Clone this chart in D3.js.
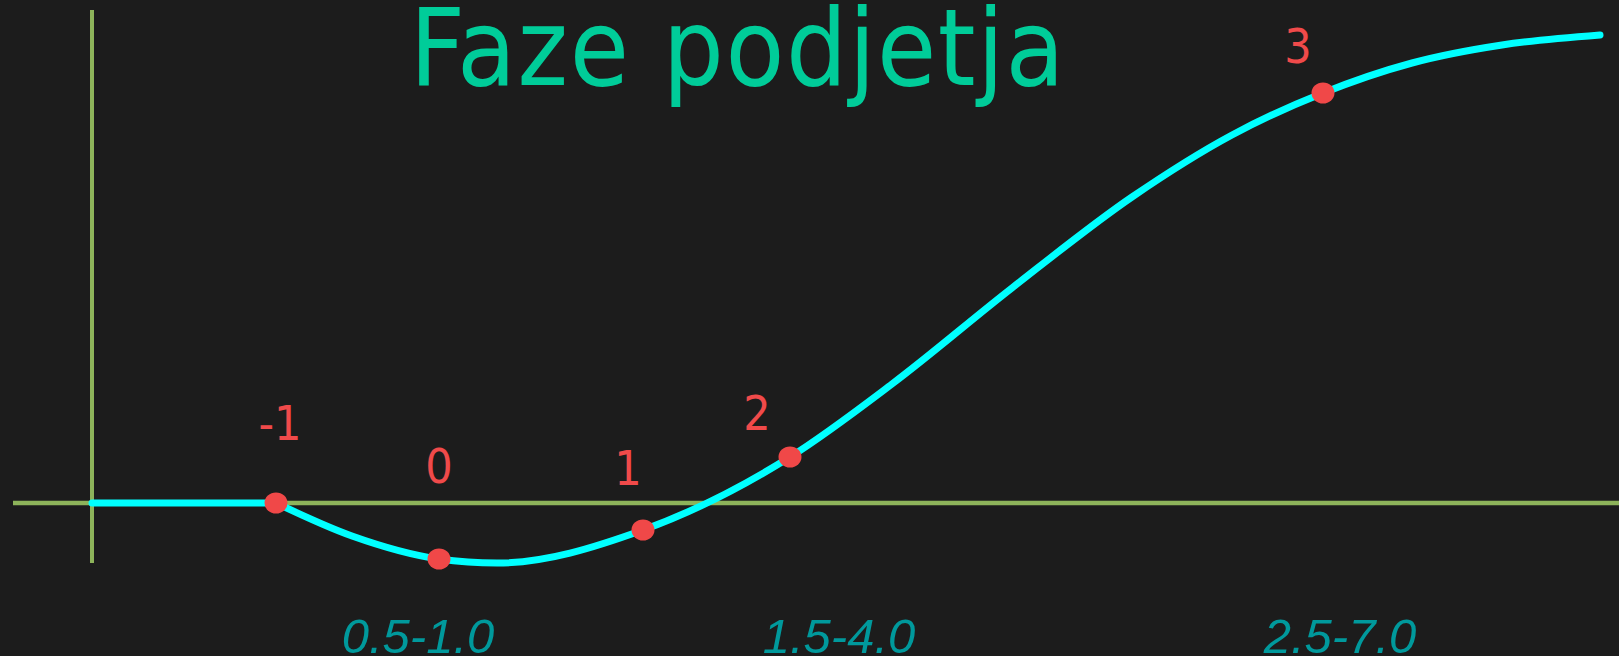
<!DOCTYPE html>
<html>
<head>
<meta charset="utf-8">
<script src="https://cdn.jsdelivr.net/npm/d3@7"></script>
<style>
  html, body { margin: 0; padding: 0; background: #1c1c1c; overflow: hidden; }
  .title { font-family: "DejaVu Sans Condensed", "DejaVu Sans"; font-stretch: condensed; fill: #00cc99; letter-spacing: 1.6px; }
  .phase_label { font-family: "DejaVu Sans Condensed", "DejaVu Sans"; font-stretch: condensed; fill: #f04a4a; }
  .range_label { font-family: "Liberation Sans Narrow", "Liberation Sans"; font-stretch: condensed; font-style: italic; fill: #00999c; }
</style>
</head>
<body>
<div class="viz"></div>
<script>
const W = 1619, H = 656;

// lifecycle curve (x: time, y: value)
// first two points are the flat start, the rest is the smooth part
const curveX = [0, 18.4, 26.0, 34.7, 40.5, 55.1, 69.8, 80.0, 92.0, 104.0, 114.0, 123.1, 132.0, 141.0, 150.8];
const curveY = [0, 0, -3.3, -5.6, -6.0, -2.7, 4.6, 11.9, 21.5, 30.6, 36.8, 41.0, 44.0, 45.8, 46.8];

// phases marked on the curve
const phases = ["-1", "0", "1", "2", "3"];
const phaseX = [18.4, 34.7, 55.1, 69.8, 123.1];
const phaseY = [0, -5.6, -2.7, 4.6, 41.0];

// ranges under the x axis
const rangeLabels = ["0.5-1.0", "1.5-4.0", "2.5-7.0"];
const rangeX = [32.6, 74.7, 124.8];

const titleText = "Faze podjetja";

// label offsets in px (label position relative to its dot)
const phaseOffsets = [[4, -63], [0, -76], [-15, -45], [-33, -27], [-25, -30]];

const svg = d3.select('.viz')
    .append('svg')
    .attr('width', W)
    .attr('height', H);

svg.append('rect')
    .attr('width', W)
    .attr('height', H)
    .attr('fill', '#1c1c1c');

const x = d3.scaleLinear()
    .domain([-7.9, 152.7])
    .range([13, W]);

const y = d3.scaleLinear()
    .domain([-6, 49.3])
    .range([563, 10]);

/* AXES */
svg.append('line')
    .attr('x1', x(0)).attr('x2', x(0))
    .attr('y1', y(-6)).attr('y2', y(49.3))
    .attr('stroke', '#8db35a')
    .attr('stroke-width', 4);

svg.append('line')
    .attr('x1', x(-7.9)).attr('x2', x(152.7))
    .attr('y1', y(0)).attr('y2', y(0))
    .attr('stroke', '#8db35a')
    .attr('stroke-width', 4.5);

/* TITLE */
svg.append('text')
    .attr('class', 'title')
    .attr('x', 738)
    .attr('y', 85)
    .attr('text-anchor', 'middle')
    .style('font-size', '107px')
    .text(titleText);

/* CURVE */
const pts = curveX.map(function(d, i) { return [d, curveY[i]]; });

const flatLine = d3.line()
    .x(function(d) { return x(d[0]); })
    .y(function(d) { return y(d[1]); });

const smoothLine = d3.line()
    .x(function(d) { return x(d[0]); })
    .y(function(d) { return y(d[1]); })
    .curve(d3.curveMonotoneX);

svg.append('path')
    .datum(pts.slice(0, 2))
    .attr('d', flatLine)
    .attr('fill', 'none')
    .attr('stroke', '#00ffff')
    .attr('stroke-width', 7)
    .attr('stroke-linecap', 'round');

svg.append('path')
    .datum(pts.slice(1))
    .attr('d', smoothLine)
    .attr('fill', 'none')
    .attr('stroke', '#00ffff')
    .attr('stroke-width', 7)
    .attr('stroke-linecap', 'round')
    .attr('stroke-linejoin', 'round');

/* PHASE DOTS + LABELS */
const phaseData = phases.map(function(p, i) {
    return { name: p, x: phaseX[i], y: phaseY[i], off: phaseOffsets[i] };
});

svg.selectAll('.phase_dot')
    .data(phaseData)
    .enter()
    .append('ellipse')
    .attr('class', 'phase_dot')
    .attr('cx', function(d) { return x(d.x); })
    .attr('cy', function(d) { return y(d.y); })
    .attr('rx', 11.5)
    .attr('ry', 10.5)
    .attr('fill', '#f04848');

svg.selectAll('.phase_label')
    .data(phaseData)
    .enter()
    .append('text')
    .attr('class', 'phase_label')
    .attr('x', function(d) { return x(d.x) + d.off[0]; })
    .attr('y', function(d) { return y(d.y) + d.off[1]; })
    .attr('text-anchor', 'middle')
    .style('font-size', '48px')
    .text(function(d) { return d.name; });

/* RANGE LABELS */
svg.selectAll('.range_label')
    .data(rangeLabels)
    .enter()
    .append('text')
    .attr('class', 'range_label')
    .attr('x', function(d, i) { return x(rangeX[i]); })
    .attr('y', 653)
    .attr('text-anchor', 'middle')
    .style('font-size', '49px')
    .text(function(d) { return d; });
</script>
</body>
</html>
